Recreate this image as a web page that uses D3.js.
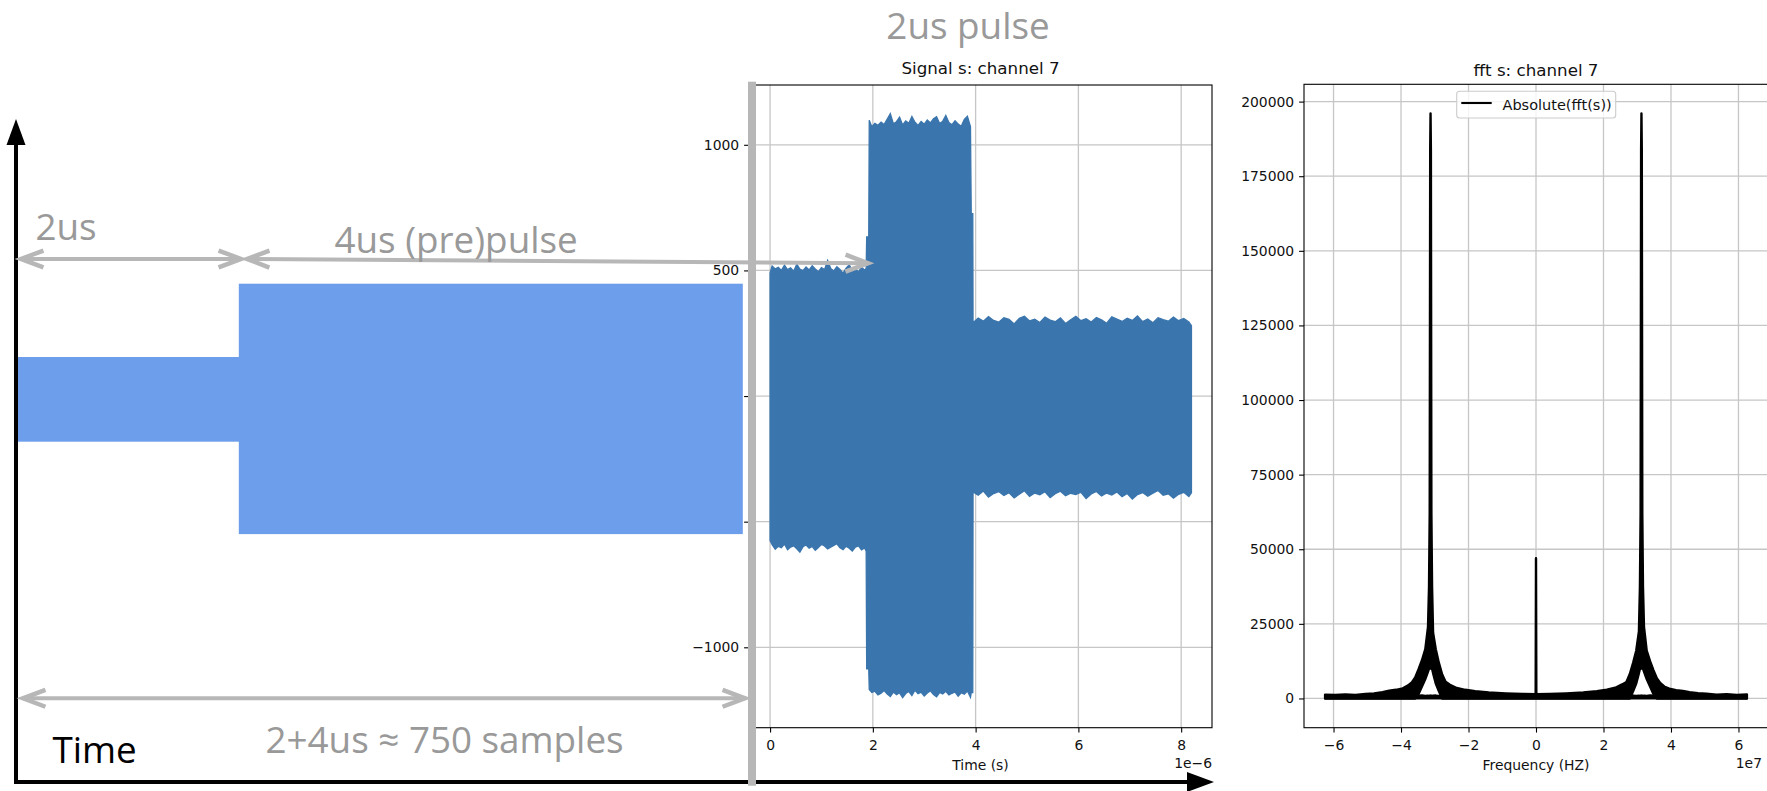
<!DOCTYPE html>
<html><head><meta charset="utf-8">
<script src="https://cdn.jsdelivr.net/npm/d3@7"></script>
<style>body{margin:0;background:#fff}svg{display:block}</style>
</head><body><svg id="c" width="1767" height="791"></svg>
<script>
// ---------------- DATA ----------------
// Signal s: channel 7  (time in microseconds -> axis shows x 1e-6)
const sigTime = [0.00,0.04,0.10,0.16,0.22,0.28,0.34,0.40,0.46,0.52,0.58,0.64,0.70,0.76,0.82,0.88,0.94,1.00,1.06,1.12,1.18,1.24,1.30,1.36,1.42,1.48,1.54,1.60,1.66,1.72,1.78,1.84,1.87,
  1.88,1.92,
  1.93,1.98,2.04,2.10,2.16,2.22,2.28,2.34,2.40,2.46,2.52,2.58,2.64,2.70,2.76,2.82,2.88,2.94,3.00,3.06,3.12,3.18,3.24,3.30,3.36,3.42,3.48,3.54,3.60,3.66,3.72,3.78,3.84,3.90,
  3.915,3.945,
  3.95,4.05,4.15,4.25,4.35,4.45,4.55,4.65,4.75,4.85,4.95,5.05,5.15,5.25,5.35,5.45,5.55,5.65,5.75,5.85,5.95,6.05,6.15,6.25,6.35,6.45,6.55,6.65,6.75,6.85,6.95,7.05,7.15,7.25,7.35,7.45,7.55,7.65,7.75,7.85,7.95,8.05,8.15,8.20];
const sigUpper = [490,518,506,512,500,521,503,510,497,525,505,499,514,502,519,506,495,511,503,540,508,498,515,504,489,509,522,500,507,494,513,502,508,
  633,633,
  1098,1072,1085,1078,1090,1081,1102,1124,1084,1092,1110,1079,1095,1086,1113,1090,1077,1093,1082,1099,1087,1104,1112,1085,1094,1117,1089,1080,1096,1083,1074,1101,1114,1072,
  726,726,
  292,310,298,316,301,294,312,305,287,309,318,299,306,293,314,302,296,311,289,304,317,300,308,295,313,303,290,315,306,297,310,301,319,296,307,292,312,304,298,314,300,309,295,280];
const sigLower = [-575,-592,-610,-598,-604,-589,-612,-601,-596,-608,-621,-600,-593,-606,-599,-614,-603,-590,-597,-609,-602,-595,-588,-604,-611,-598,-606,-617,-601,-596,-612,-605,-618,
  -1086,-1086,
  -1168,-1180,-1175,-1190,-1183,-1172,-1186,-1196,-1178,-1189,-1181,-1200,-1184,-1176,-1192,-1171,-1185,-1179,-1194,-1182,-1173,-1188,-1197,-1180,-1186,-1175,-1190,-1183,-1178,-1195,-1181,-1187,-1174,-1199,
  -1180,-1180,
  -382,-395,-378,-402,-388,-380,-396,-385,-405,-391,-377,-399,-386,-393,-381,-404,-389,-379,-397,-387,-392,-383,-408,-390,-380,-398,-386,-394,-382,-401,-388,-410,-392,-384,-399,-387,-376,-395,-389,-406,-391,-383,-400,-385];
const sigXTicks = [0,2,4,6,8];
const sigXLabels = ["0","2","4","6","8"];
const sigYTicks = [-1000,-500,0,500,1000];
const sigYLabels = ["\u22121000","\u2212500","0","500","1000"];

// fft s: channel 7  (frequency in units of 1e7 Hz)
const fftFreq  = [-6.25,-5.95,-5.65,-5.35,-5.05,-4.80,-4.55,-4.35,-4.15,-3.95,-3.80,-3.68,-3.58,-3.48,-3.38,-3.28,-3.20,-3.17,-3.15,-3.135,-3.125,-3.115,-3.10,-3.08,-3.05,-2.97,-2.88,-2.78,-2.68,-2.55,-2.35,-2.10,-1.80,-1.40,-0.90,-0.40,-0.01,
  0,
  0.01,0.40,0.90,1.40,1.80,2.10,2.35,2.55,2.68,2.78,2.88,2.97,3.05,3.08,3.10,3.115,3.125,3.135,3.15,3.17,3.20,3.28,3.38,3.48,3.58,3.68,3.80,3.95,4.15,4.35,4.55,4.80,5.05,5.35,5.65,5.95,6.25];
const fftUpper = [1300,1150,1350,1200,1500,1700,2100,2600,2900,3400,4300,5400,7000,9800,12800,16500,24000,37500,62000,184000,196000,184000,62000,37500,22000,16500,12000,8000,5600,4600,3500,2900,2400,2000,1700,1500,1400,
  47000,
  1400,1500,1700,2000,2450,2950,3600,4700,5500,8200,12000,16000,22500,37500,62000,184000,196000,184000,62000,37500,24000,16000,12500,9500,6800,5200,4000,3300,2800,2500,2100,1800,1600,1300,1450,1200,1350];
const fftLower = [0,0,0,0,0,0,0,0,0,0,0,0,0,1500,4000,6500,9000,10000,10000,10000,10000,10000,10000,10000,8500,5000,2500,0,0,0,0,0,0,0,0,0,0,
  0,
  0,0,0,0,0,0,0,0,0,0,2500,5000,8500,10000,10000,10000,10000,10000,10000,10000,9000,6500,4000,1500,0,0,0,0,0,0,0,0,0,0,0,0,0];
const fftFloor = [900,850,950,900,1000,950,900,1000,950,900,1000,950,900,950,1000,900,950,900,950,900,950,900,950,900,950,1000,900,950,1000,900,950,900,1000,950,900,950,900,
  900,
  900,950,900,1000,950,900,950,1000,900,950,1000,900,950,900,950,900,950,900,950,900,950,900,1000,950,900,1000,950,900,950,1000,900,950,900,1000,950,900,850,900];
const fftXTicks = [-6,-4,-2,0,2,4,6];
const fftXLabels = ["\u22126","\u22124","\u22122","0","2","4","6"];
const fftYTicks = [0,25000,50000,75000,100000,125000,150000,175000,200000];
const fftYLabels = ["0","25000","50000","75000","100000","125000","150000","175000","200000"];

// ---------------- DRAWING ----------------
const svg = d3.select('#c');
svg.append('rect').attr('width',1767).attr('height',791).attr('fill','#fff');
const MPL = 'DejaVu Sans';
const GRID = '#c6c6c6';

function styleAxis(g, size){
  g.select('.domain').remove();
  g.selectAll('.tick line').attr('stroke','#000').attr('stroke-width',1.1);
  g.selectAll('.tick text').attr('font-family',MPL).attr('font-size',size).attr('fill','#111');
}

// ---- Signal plot ----
const sx = d3.scaleLinear().domain([-0.41,8.6]).range([749,1212]);
const sy = d3.scaleLinear().domain([-1320,1238]).range([727.7,85]);
const gS = svg.append('g');
gS.selectAll('line.gx').data(sigXTicks).join('line').attr('class','gx')
  .attr('x1',d=>sx(d)).attr('x2',d=>sx(d)).attr('y1',sy.range()[1]).attr('y2',sy.range()[0])
  .attr('stroke',GRID).attr('stroke-width',1.3);
gS.selectAll('line.gy').data(sigYTicks).join('line').attr('class','gy')
  .attr('x1',sx.range()[0]).attr('x2',sx.range()[1]).attr('y1',d=>sy(d)).attr('y2',d=>sy(d))
  .attr('stroke',GRID).attr('stroke-width',1.3);
const sigArea = d3.area()
  .x((d,i)=>sx(sigTime[i])).y0((d,i)=>sy(sigLower[i])).y1((d,i)=>sy(sigUpper[i]));
gS.append('path').datum(sigTime).attr('d',sigArea)
  .attr('fill','#3a75ad').attr('stroke','#3a75ad').attr('stroke-width',1.3).attr('stroke-linejoin','miter');
gS.append('g').attr('transform',`translate(0,${sy.range()[0]})`)
  .call(d3.axisBottom(sx).tickValues(sigXTicks).tickFormat((d,i)=>sigXLabels[i]).tickSize(4.9).tickPadding(7.3))
  .call(g=>styleAxis(g,13.9));
gS.append('g').attr('transform',`translate(${sx.range()[0]},0)`)
  .call(d3.axisLeft(sy).tickValues(sigYTicks).tickFormat((d,i)=>sigYLabels[i]).tickSize(4.9).tickPadding(4.9))
  .call(g=>styleAxis(g,13.9));
gS.append('rect').attr('x',sx.range()[0]).attr('y',sy.range()[1])
  .attr('width',sx.range()[1]-sx.range()[0]).attr('height',sy.range()[0]-sy.range()[1])
  .attr('fill','none').attr('stroke','#000').attr('stroke-width',1.1);
gS.append('text').attr('x',(sx.range()[0]+sx.range()[1])/2).attr('y',74).attr('text-anchor','middle')
  .attr('font-family',MPL).attr('font-size',16.7).attr('fill','#111').text('Signal s: channel 7');
gS.append('text').attr('x',(sx.range()[0]+sx.range()[1])/2).attr('y',769.5).attr('text-anchor','middle')
  .attr('font-family',MPL).attr('font-size',13.9).attr('fill','#111').text('Time (s)');
gS.append('text').attr('x',sx.range()[1]).attr('y',767.5).attr('text-anchor','end')
  .attr('font-family',MPL).attr('font-size',13.9).attr('fill','#111').text('1e\u22126');

// ---- FFT plot ----
const fx = d3.scaleLinear().domain([-6.875,6.875]).range([1304,1768]);
const fy = d3.scaleLinear().domain([-9800,205800]).range([727.7,84.3]);
const gF = svg.append('g');
gF.selectAll('line.gx').data(fftXTicks).join('line').attr('class','gx')
  .attr('x1',d=>fx(d)).attr('x2',d=>fx(d)).attr('y1',fy.range()[1]).attr('y2',fy.range()[0])
  .attr('stroke',GRID).attr('stroke-width',1.3);
gF.selectAll('line.gy').data(fftYTicks).join('line').attr('class','gy')
  .attr('x1',fx.range()[0]).attr('x2',fx.range()[1]).attr('y1',d=>fy(d)).attr('y2',d=>fy(d))
  .attr('stroke',GRID).attr('stroke-width',1.3);
const floorArea = d3.area().x((d,i)=>fx(fftFreq[i])).y0(fy(0)).y1((d,i)=>fy(fftFloor[i]));
gF.append('path').datum(fftFreq).attr('d',floorArea)
  .attr('fill','#000').attr('stroke','#000').attr('stroke-width',2.2).attr('stroke-linejoin','round');
const fftArea = d3.area().x((d,i)=>fx(fftFreq[i])).y0((d,i)=>fy(fftLower[i])).y1((d,i)=>fy(fftUpper[i]));
gF.append('path').datum(fftFreq).attr('d',fftArea)
  .attr('fill','#000').attr('stroke','#000').attr('stroke-width',2.4).attr('stroke-linejoin','round');
gF.append('g').attr('transform',`translate(0,${fy.range()[0]})`)
  .call(d3.axisBottom(fx).tickValues(fftXTicks).tickFormat((d,i)=>fftXLabels[i]).tickSize(4.9).tickPadding(7.3))
  .call(g=>styleAxis(g,13.9));
gF.append('g').attr('transform',`translate(${fx.range()[0]},0)`)
  .call(d3.axisLeft(fy).tickValues(fftYTicks).tickFormat((d,i)=>fftYLabels[i]).tickSize(4.9).tickPadding(4.9))
  .call(g=>styleAxis(g,13.9));
gF.append('rect').attr('x',fx.range()[0]).attr('y',fy.range()[1])
  .attr('width',fx.range()[1]-fx.range()[0]).attr('height',fy.range()[0]-fy.range()[1])
  .attr('fill','none').attr('stroke','#000').attr('stroke-width',1.1);
gF.append('text').attr('x',(fx.range()[0]+fx.range()[1])/2).attr('y',76).attr('text-anchor','middle')
  .attr('font-family',MPL).attr('font-size',16.7).attr('fill','#111').text('fft s: channel 7');
gF.append('text').attr('x',(fx.range()[0]+fx.range()[1])/2).attr('y',769.5).attr('text-anchor','middle')
  .attr('font-family',MPL).attr('font-size',13.9).attr('fill','#111').text('Frequency (HZ)');
gF.append('text').attr('x',1762).attr('y',768).attr('text-anchor','end')
  .attr('font-family',MPL).attr('font-size',13.9).attr('fill','#111').text('1e7');
// legend
const lg = gF.append('g');
lg.append('rect').attr('x',1456.7).attr('y',91.3).attr('width',159).attr('height',26.7).attr('rx',3)
  .attr('fill','#fff').attr('fill-opacity',0.8).attr('stroke','#cccccc').attr('stroke-width',1.1);
lg.append('line').attr('x1',1461.3).attr('x2',1491.7).attr('y1',103).attr('y2',103)
  .attr('stroke','#000').attr('stroke-width',2.1);
lg.append('text').attr('x',1502.5).attr('y',110).attr('font-family',MPL).attr('font-size',14.5)
  .attr('fill','#111').text('Absolute(fft(s))');

// ---- Left schematic ----
const BLUE = '#6d9eeb', LG = '#b7b7b7', TG = '#999999', OS = 'Open Sans';
const gD = svg.append('g');
gD.append('rect').attr('x',17).attr('y',357).attr('width',222).attr('height',84.7).attr('fill',BLUE);
gD.append('rect').attr('x',238.8).attr('y',283.7).attr('width',504).attr('height',250.4).attr('fill',BLUE);
// black axes arrows
gD.append('line').attr('x1',16).attr('x2',16).attr('y1',784).attr('y2',140).attr('stroke','#000').attr('stroke-width',4);
gD.append('path').attr('d','M16,119 L6.5,145 L25.5,145 Z').attr('fill','#000');
gD.append('line').attr('x1',14).attr('x2',1192).attr('y1',782).attr('y2',782).attr('stroke','#000').attr('stroke-width',4);
gD.append('path').attr('d','M1214,782 L1187,772 L1187,792 Z').attr('fill','#000');
// thick gray separator
gD.append('rect').attr('x',748).attr('y',81.7).attr('width',8).attr('height',704).attr('fill',LG);
// gray double arrows
function dblArrow(x1,y1,x2,y2){
  const a = Math.atan2(y2-y1,x2-x1), L=24, s=0.36;
  gD.append('line').attr('x1',x1).attr('y1',y1).attr('x2',x2).attr('y2',y2).attr('stroke',LG).attr('stroke-width',4);
  [[x1,y1,a],[x2,y2,a+Math.PI]].forEach(([x,y,b])=>{
    const p1=[x+L*Math.cos(b+s), y+L*Math.sin(b+s)], p2=[x+L*Math.cos(b-s), y+L*Math.sin(b-s)];
    gD.append('path').attr('d',`M${p1[0]},${p1[1]} L${x},${y} L${p2[0]},${p2[1]}`)
      .attr('fill','none').attr('stroke',LG).attr('stroke-width',4.5).attr('stroke-linejoin','miter').attr('stroke-miterlimit',10);
  });
}
dblArrow(21,259,241,259);
dblArrow(247,259,868,263.3);
dblArrow(23,698.3,745,698.3);
// texts
const txt=(x,y,s,fill,anchor)=>gD.append('text').attr('x',x).attr('y',y).attr('font-family',OS)
  .attr('font-size',36.8).attr('fill',fill).attr('text-anchor',anchor||'start').text(s);
txt(35.5,240,'2us',TG);
txt(334.5,253.3,'4us (pre)pulse',TG);
txt(968,39,'2us pulse',TG,'middle');
txt(265.5,752.5,'2+4us \u2248 750 samples',TG);
txt(52.5,763,'Time','#000');
</script></body></html>
